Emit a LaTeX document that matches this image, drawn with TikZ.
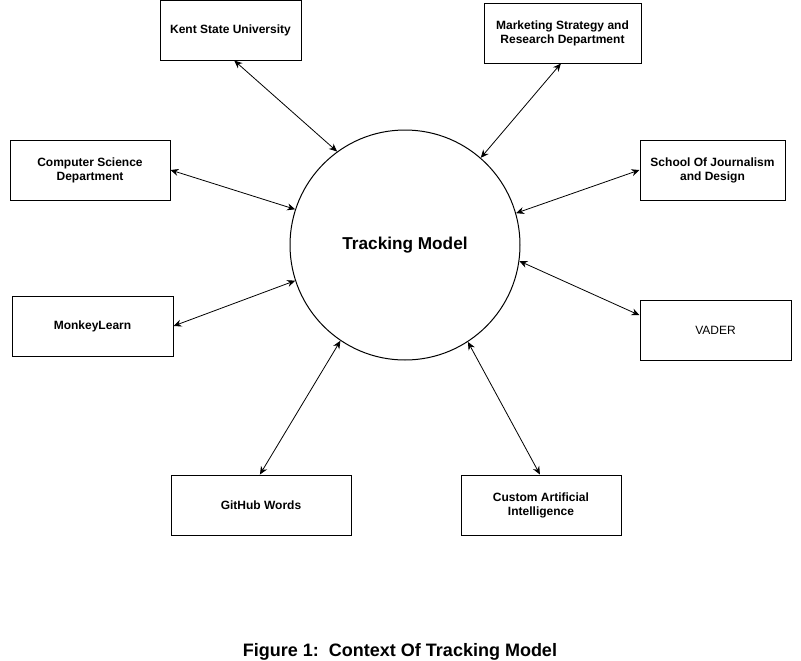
\documentclass[tikz,border=0pt]{standalone}
\usepackage{fontspec}
\setmainfont{Liberation Sans}
\usetikzlibrary{arrows.meta}
\newlength\px
\setlength\px{0.75pt}
\tikzset{
  entity/.style={draw, line width=1\px, align=center, minimum height=60\px, inner sep=2pt,
    font=\bfseries\fontsize{9}{10.5}\selectfont},
  model/.style={draw, circle, line width=1\px, minimum size=230\px, inner sep=0pt,
    font=\bfseries\fontsize{12.9}{15}\selectfont},
  link/.style={line width=0.6pt, {Stealth[length=6pt,width=5.25pt]}-{Stealth[length=6pt,width=5.25pt]}},
  caption/.style={font=\bfseries\fontsize{13.5}{16}\selectfont, anchor=base, inner sep=0pt},
}

\begin{document}
\begin{tikzpicture}[x=1\px, y=-1\px]
		\useasboundingbox (0,0) rectangle (801,661);
		% centre
		\node[model] (tm) at (405,245) {Tracking Model};
		% boxes round it
		\node[entity, minimum width=141\px] (kent) at (230.5,30) {Kent State University};
		\node[entity, minimum width=157\px] (mkt) at (562.5,33) {Marketing Strategy and\\Research Department};
		\node[entity, minimum width=160\px] (cs) at (90,170) {Computer Science\\Department};
		\node[entity, minimum width=145\px] (sch) at (712.5,170) {School Of Journalism\\and Design};
		\node[entity, minimum width=161\px] (ml) at (92.5,326) {MonkeyLearn};
		\node[entity, minimum width=151\px, font=\fontsize{9}{10.5}\selectfont] (vader) at (715.5,330) {VADER};
		\node[entity, minimum width=180\px] (gh) at (261,505) {GitHub Words};
		\node[entity, minimum width=160\px] (cai) at (541,505) {Custom Artificial\\Intelligence};
		% links
		\draw[link] (kent.-83) -- (tm.126.6);
		\draw[link] (mkt.-93) -- (tm.49.2);
		\draw[link] (cs.east) -- (tm.162.7);
		\draw[link] (sch.west) -- (tm.16.7);
		\draw[link] (ml.east) -- (tm.198.3);
		\draw[link] (vader.169) -- (tm.-8.3);
		\draw[link] (gh.92) -- (tm.236.2);
		\draw[link] (cai.92) -- (tm.303.3);
		\node[caption] (cap) at (400,656) {Figure 1:~~Context Of Tracking Model};
\end{tikzpicture}
\end{document}
